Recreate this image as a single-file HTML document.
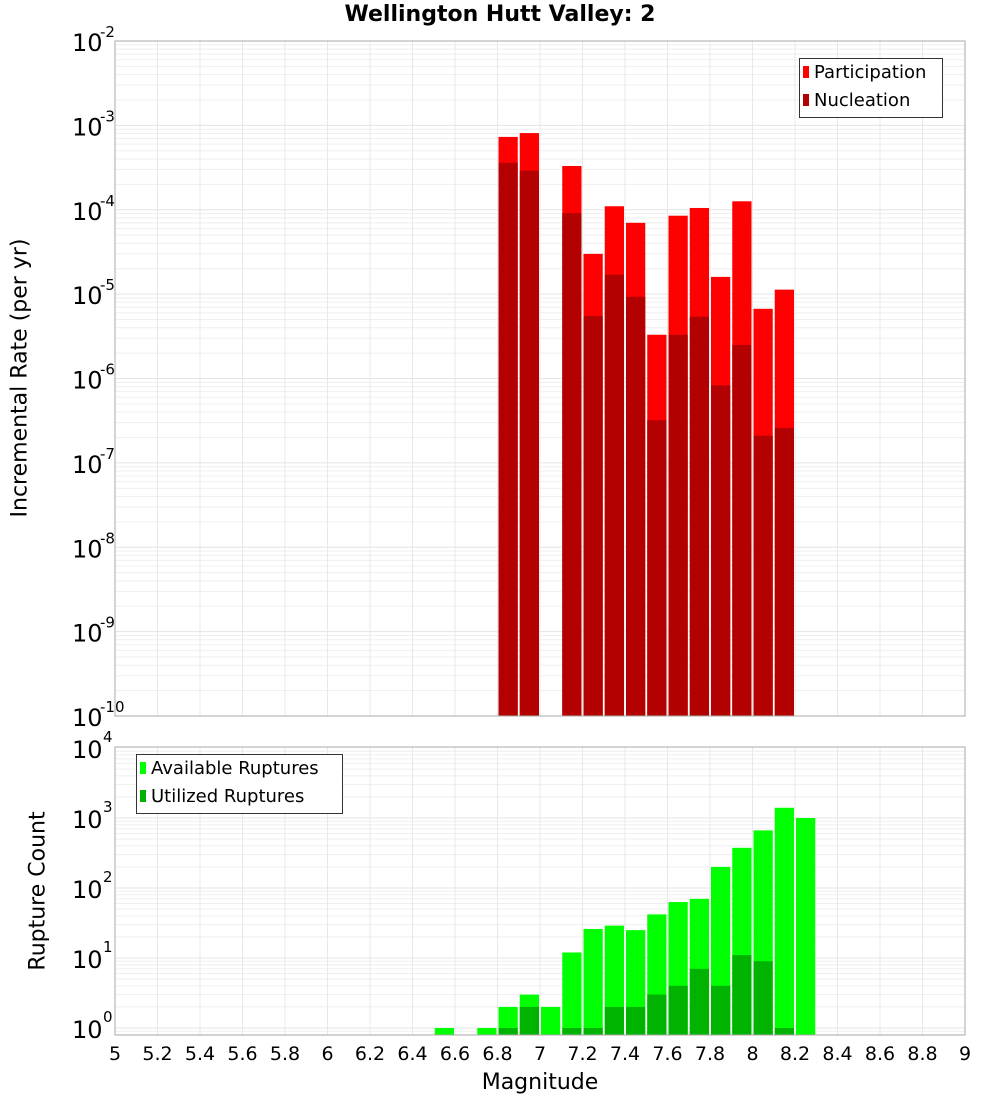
<!DOCTYPE html>
<html><head><meta charset="utf-8"><style>
body{margin:0;background:#fff;font-family:"Liberation Sans","DejaVu Sans",sans-serif}
svg text{font-family:"DejaVu Sans","Liberation Sans",sans-serif}
</style></head><body>
<svg id="c" width="1000" height="1100"></svg>
<script>
const bins=[6.5,6.6,6.7,6.8,6.9,7.0,7.1,7.2,7.3,7.4,7.5,7.6,7.7,7.8,7.9,8.0,8.1,8.2];
const participation=[0,0,0,7.3e-4,8.1e-4,0,3.3e-4,3.0e-5,1.1e-4,7.0e-5,3.3e-6,8.5e-5,1.05e-4,1.6e-5,1.26e-4,6.7e-6,1.13e-5,0];
const nucleation=[0,0,0,3.6e-4,2.9e-4,0,9.1e-5,5.5e-6,1.7e-5,9.3e-6,3.2e-7,3.3e-6,5.4e-6,8.3e-7,2.5e-6,2.1e-7,2.6e-7,0];
const available=[1,0,1,2,3,2,12,26,29,25,42,63,70,200,375,665,1400,1000];
const utilized=[0,0,0,1,2,0,1,1,2,2,3,4,7,4,11,9,1,0];
const xTicks=["5","5.2","5.4","5.6","5.8","6","6.2","6.4","6.6","6.8","7","7.2","7.4","7.6","7.8","8","8.2","8.4","8.6","8.8","9"];
const topExps=[-2,-3,-4,-5,-6,-7,-8,-9,-10];
const botExps=[4,3,2,1,0];

const NS="http://www.w3.org/2000/svg";
const svg=document.getElementById('c');
function mk(tag,attrs,parent){const e=document.createElementNS(NS,tag);for(const k in attrs)e.setAttribute(k,attrs[k]);(parent||svg).appendChild(e);return e;}
const X0=115,X1=965;
const xs=m=>X0+(m-5)/4*(X1-X0);
const T={top:41,bot:716,ymin:-10,ymax:-2};
const B={top:747,bot:1035,y0:1028,dec:70};
const ty=v=>T.top+(T.ymax-Math.log10(v))*(T.bot-T.top)/(T.ymax-T.ymin);
const by=v=>B.y0-Math.log10(v)*B.dec;

function grid(top,bot,yf,lo,hi,name){
  const g=mk('g',{});
  
  
  for(let e=lo;e<hi;e++)for(let k=1;k<10;k++){const y=yf(k*Math.pow(10,e));if(y>=top&&y<=bot)mk('line',{x1:X0,x2:X1,y1:y,y2:y,stroke:k==1?'#e4e4e4':'#efefef','stroke-width':1},g);}
  for(let i=0;i<xTicks.length;i++){const x=xs(parseFloat(xTicks[i]));mk('line',{x1:x,x2:x,y1:top,y2:bot,stroke:'#e8e8e8'},g);}
}
// top panel
mk('rect',{x:X0,y:T.top,width:X1-X0,height:T.bot-T.top,fill:'#fff'});
grid(T.top,T.bot,ty,-10,-2,'top-grid');
bins.forEach((b,i)=>{
  const x=xs(b)+1,w=xs(b+0.1)-xs(b)-2;
  if(participation[i]>0){const r=mk('rect',{x:x,y:ty(participation[i]),width:w,height:T.bot-ty(participation[i]),fill:'#ff0000'});
    
    }
  if(nucleation[i]>0){const r=mk('rect',{x:x,y:ty(nucleation[i]),width:w,height:T.bot-ty(nucleation[i]),fill:'#b30000'});
    
    }
});
mk('rect',{x:X0,y:T.top,width:X1-X0,height:T.bot-T.top,fill:'none',stroke:'#aaa'});
topExps.forEach(e=>{const y=ty(Math.pow(10,e));
  const t=mk('text',{x:72,y:y+10,'font-size':24,fill:'#000'});t.textContent='10';
  
  
  const s=mk('text',{x:100,y:y-4,'font-size':15,fill:'#000'});s.textContent=e;});
// bottom panel
grid(B.top,B.bot,by,-1,4,'bottom-grid');
bins.forEach((b,i)=>{
  const x=xs(b)+1,w=xs(b+0.1)-xs(b)-2;
  if(available[i]>0){const r=mk('rect',{x:x,y:by(available[i]),width:w,height:B.bot-by(available[i]),fill:'#00ff00'});
    
    }
  if(utilized[i]>0){const r=mk('rect',{x:x,y:by(utilized[i]),width:w,height:B.bot-by(utilized[i]),fill:'#00b300'});
    
    }
});
mk('rect',{x:X0,y:B.top,width:X1-X0,height:B.bot-B.top,fill:'none',stroke:'#aaa'});
botExps.forEach(e=>{const y=by(Math.pow(10,e));
  const t=mk('text',{x:72,y:y+10,'font-size':24,fill:'#000'});t.textContent='10';
  
  
  const s=mk('text',{x:103,y:y-6,'font-size':15,fill:'#000'});s.textContent=e;});
xTicks.forEach(l=>{const t=mk('text',{x:xs(parseFloat(l)),y:1060,'font-size':19,'text-anchor':'middle',fill:'#000'});t.textContent=l;
  
  });
</script>
<div style="position:absolute;left:0;top:0;width:1000px;height:1100px;pointer-events:none">
<div style="position:absolute;left:0;width:1000px;top:2px;text-align:center;font-weight:bold;font-size:22px;font-family:'DejaVu Sans','Liberation Sans',sans-serif">Wellington Hutt Valley: 2</div>
<div style="position:absolute;left:20px;top:378px;width:0;height:0"><div style="position:absolute;transform:translate(-50%,-50%) rotate(-90deg);white-space:nowrap;font-size:22px;font-family:'DejaVu Sans','Liberation Sans',sans-serif">Incremental Rate (per yr)</div></div>
<div style="position:absolute;left:38px;top:891px;width:0;height:0"><div style="position:absolute;transform:translate(-50%,-50%) rotate(-90deg);white-space:nowrap;font-size:22px;font-family:'DejaVu Sans','Liberation Sans',sans-serif">Rupture Count</div></div>
<div style="position:absolute;left:0;width:1080px;top:1070px;text-align:center;font-size:22px;font-family:'DejaVu Sans','Liberation Sans',sans-serif">Magnitude</div>
<div style="position:absolute;left:799px;top:58px;width:142px;height:58px;border:1px solid #333;background:#fff;font-size:18px;font-family:'DejaVu Sans','Liberation Sans',sans-serif;line-height:28px">
<div style="padding-left:3px"><span style="display:inline-block;width:6px;height:12px;background:#f00;margin-right:5px"></span>Participation</div>
<div style="padding-left:3px"><span style="display:inline-block;width:6px;height:12px;background:#b30000;margin-right:5px"></span>Nucleation</div></div>
<div style="position:absolute;left:136px;top:754px;width:205px;height:58px;border:1px solid #333;background:#fff;font-size:18px;font-family:'DejaVu Sans','Liberation Sans',sans-serif;line-height:28px">
<div style="padding-left:3px"><span style="display:inline-block;width:6px;height:12px;background:#0f0;margin-right:5px"></span>Available Ruptures</div>
<div style="padding-left:3px"><span style="display:inline-block;width:6px;height:12px;background:#00b300;margin-right:5px"></span>Utilized Ruptures</div></div>
</div>
</body></html>
